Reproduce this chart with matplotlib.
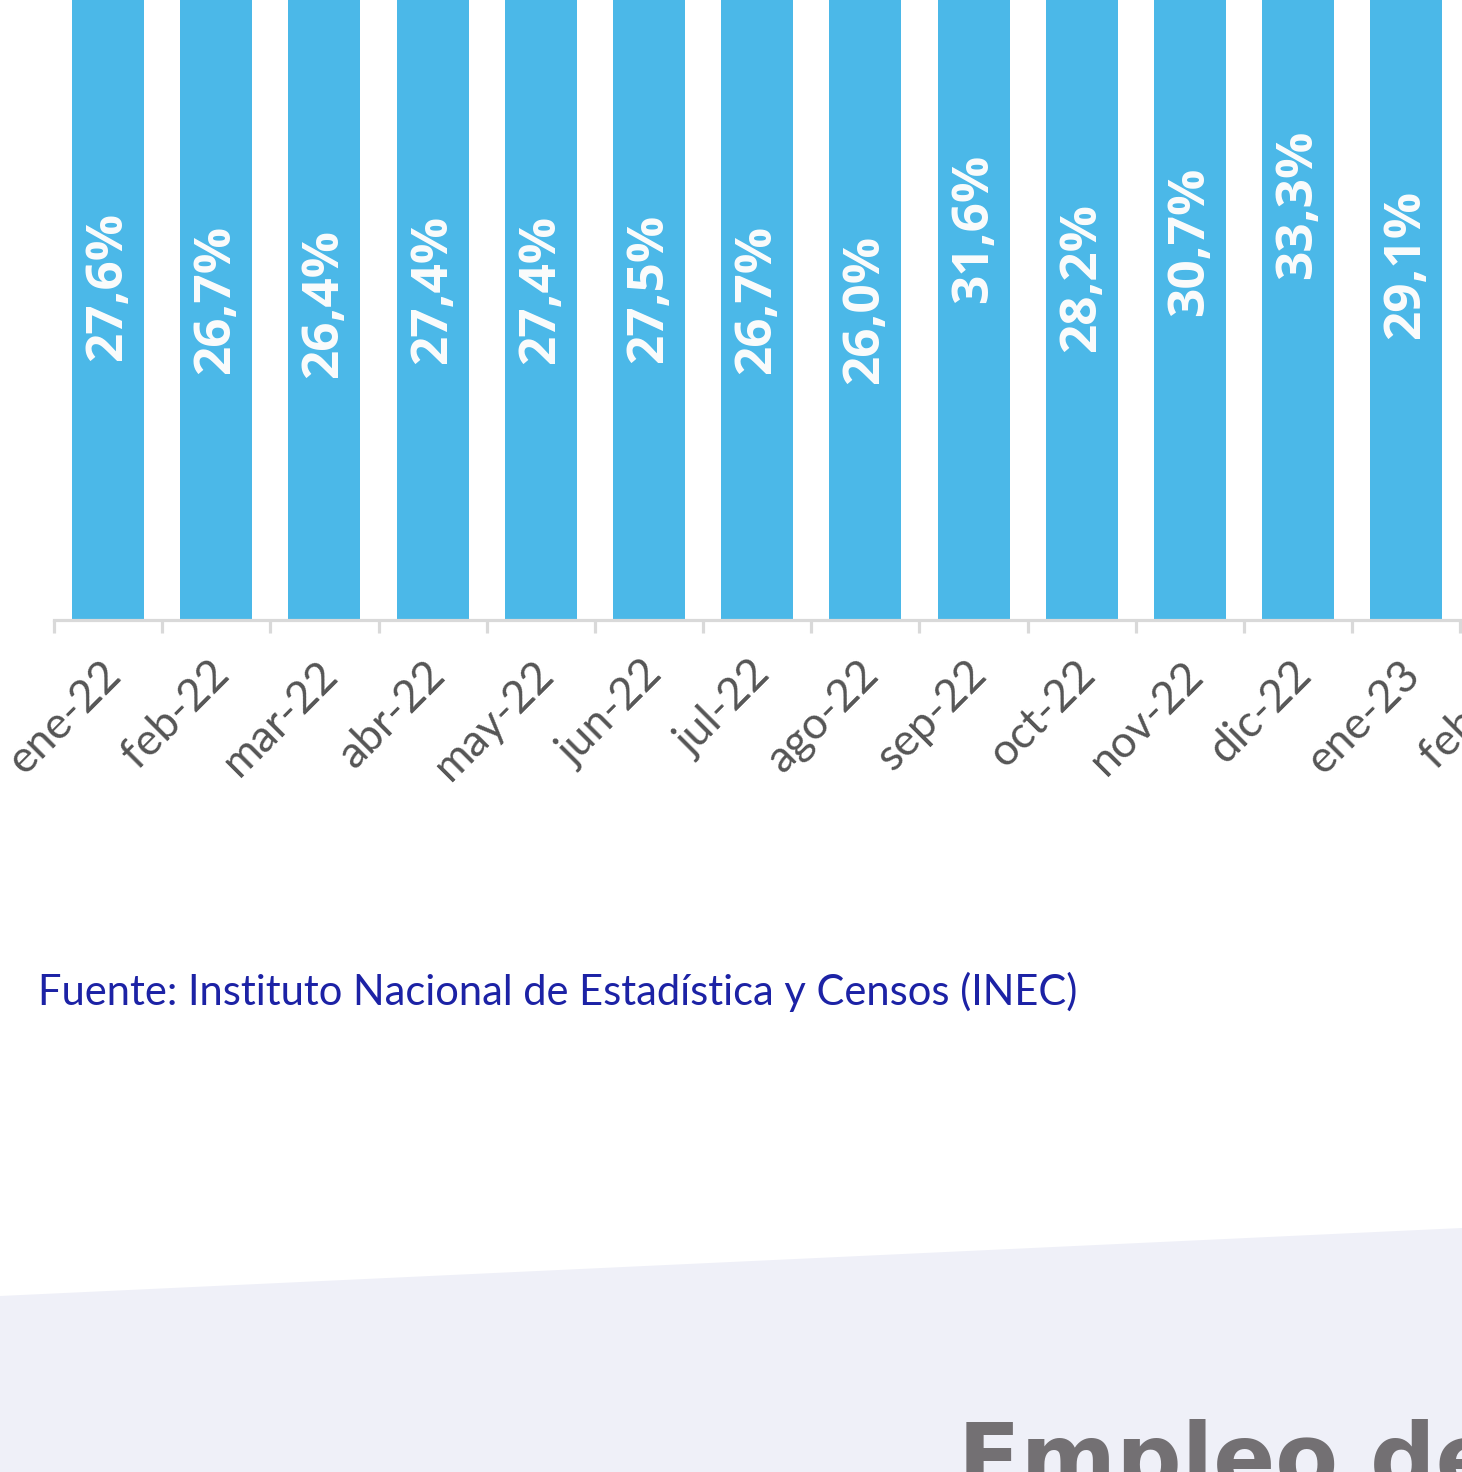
import matplotlib
matplotlib.use('Agg')
import matplotlib.pyplot as plt
import matplotlib.transforms as mtransforms
from matplotlib.patches import Polygon

meses = ['ene-22', 'feb-22', 'mar-22', 'abr-22', 'may-22', 'jun-22', 'jul-22',
         'ago-22', 'sep-22', 'oct-22', 'nov-22', 'dic-22', 'ene-23', 'feb-23']
valores = [27.6, 26.7, 26.4, 27.4, 27.4, 27.5, 26.7,
           26.0, 31.6, 28.2, 30.7, 33.3, 29.1]
etiquetas = ['27,6%', '26,7%', '26,4%', '27,4%', '27,4%', '27,5%', '26,7%',
             '26,0%', '31,6%', '28,2%', '30,7%', '33,3%', '29,1%']
fuente = 'Fuente: Instituto Nacional de Estadística y Censos (INEC)'
titulo_sig = 'Empleo de'

W, H = 1462, 1472
fig = plt.figure(figsize=(W / 100, H / 100), dpi=100)
fig.patch.set_facecolor('white')

# lavender band at the bottom
band = Polygon([(0, 1 - 1296 / H), (1, 1 - 1228 / H), (1, 0), (0, 0)],
               closed=True, transform=fig.transFigure,
               facecolor='#eff0f8', edgecolor='none', zorder=0)
fig.patches.append(band)

# axes placed in pixels; the chart runs past the top and right edges
ymin, ymax = 4.6, 34.6
px_unit_x, px_unit_y = 108.2, 29.0
x0_px, base_px = 53.9, 620
ax = fig.add_axes([x0_px / W, (H - base_px) / H,
                   15 * px_unit_x / W, (ymax - ymin) * px_unit_y / H])
ax.set_facecolor('none')
ax.set_xlim(-0.5, 14.5)
ax.set_ylim(ymin, ymax)

x = list(range(len(valores)))
ax.bar(x, valores, width=0.665, color='#4bb8e8', zorder=2)

for xi, v, lab in zip(x, valores, etiquetas):
    ax.text(xi, (ymin + v) / 2, lab, rotation=90, ha='center', va='center',
            color='#fcfcfc', fontsize=37, fontweight='bold',
            family='Open Sans', zorder=3)

for s in ['left', 'right', 'top']:
    ax.spines[s].set_visible(False)
ax.spines['bottom'].set_color('#d9d9d9')
ax.spines['bottom'].set_linewidth(2.3)
ax.set_yticks([])

ax.set_xticks(range(len(meses)))
ax.set_xticks([i + 0.5 for i in range(-1, len(meses))], minor=True)
ax.tick_params(axis='x', which='major', length=0, pad=24)
ax.tick_params(axis='x', which='minor', length=9.5, width=2.3,
               color='#d9d9d9', direction='out')
ax.set_xticklabels(meses, rotation=45, ha='right', va='top',
                   rotation_mode='anchor', fontsize=32, color='#555555',
                   family='Lato')
offset = mtransforms.ScaledTranslation(-8 / 100, 0, fig.dpi_scale_trans)
for t in ax.get_xticklabels():
    t.set_transform(t.get_transform() + offset)

fig.text(38 / W, 1 - 1005 / H, fuente, ha='left', va='baseline',
         fontsize=30, color='#1c22a5', family='Lato')

fig.text(958 / W, 1 - 1490 / H, titulo_sig, ha='left', va='baseline',
         fontsize=66, fontweight='bold', color='#737073', family='DejaVu Sans')

fig.savefig('out.png', dpi=100)
